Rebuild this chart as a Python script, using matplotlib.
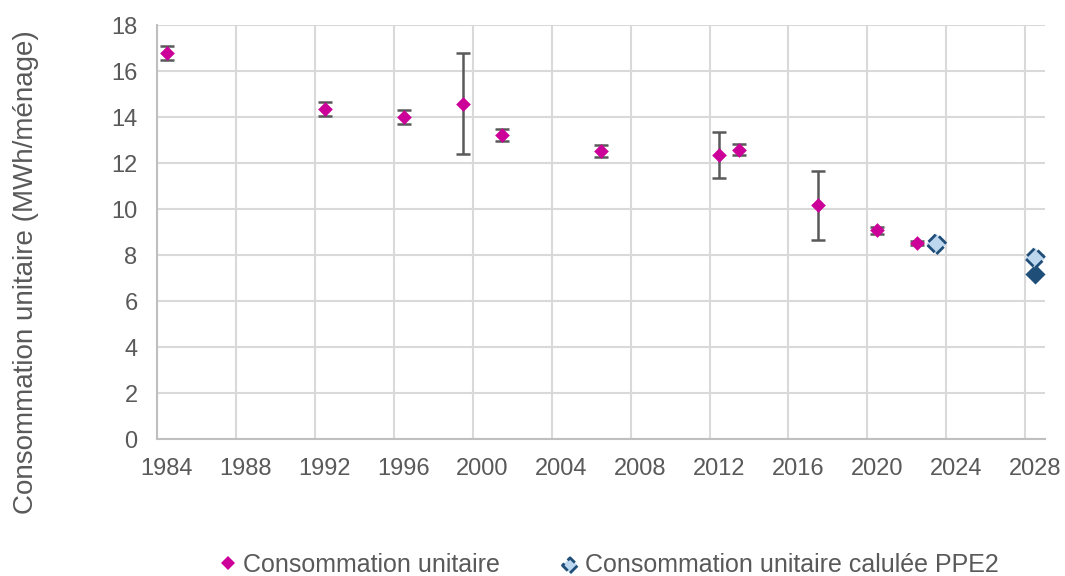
import matplotlib
matplotlib.use("Agg")
import matplotlib.pyplot as plt
from matplotlib.lines import Line2D

plt.rcParams['font.family'] = ['Liberation Sans', 'DejaVu Sans']

# data (years are plotted at mid-year)
years = [1984, 1992, 1996, 1999, 2001, 2006, 2012, 2013, 2017, 2020, 2022]
values = [16.78, 14.35, 14.0, 14.57, 13.22, 12.52, 12.35, 12.57, 10.17, 9.08, 8.52]
errors = [0.32, 0.3, 0.3, 2.2, 0.28, 0.25, 1.0, 0.24, 1.5, 0.15, 0.1]

ppe2_years = [2023, 2028]
ppe2_values = [8.48, 7.87]
dark_years = [2028]
dark_values = [7.17]

xticks = list(range(1984, 2029, 4))
yticks = list(range(0, 19, 2))

magenta = '#CC0099'
dark_blue = '#1F4E79'
light_blue = '#BDD7EE'
text_gray = '#595959'

def mid(ys):
    return [y + 0.5 for y in ys]

fig = plt.figure(figsize=(10.65, 5.76), dpi=100)
L, R, T, B = 157, 1045, 25, 439
ax = fig.add_axes([L/1065, 1 - B/576, (R-L)/1065, (B-T)/576])

ax.errorbar(mid(years), values, yerr=errors, fmt='none', ecolor=text_gray, elinewidth=1.8,
            capsize=5, capthick=1.8, zorder=3)
ax.scatter(mid(years), values, marker='D', s=56, color=magenta, zorder=4, linewidths=0)
ax.scatter(mid(dark_years), dark_values, marker='D', s=105, color=dark_blue, zorder=4, linewidths=0,
           clip_on=False)
ax.scatter(mid(ppe2_years), ppe2_values, marker='D', s=105, facecolor=light_blue, edgecolor=dark_blue,
           linewidths=2, linestyle='--', zorder=5, clip_on=False)

ax.set_xlim(1984, 2029)
ax.set_ylim(0, 18)
ax.set_xticks(xticks)
ax.set_xticklabels([])
ax.set_xticks(mid(xticks), labels=[str(y) for y in xticks], minor=True)
ax.set_yticks(yticks)
ax.grid(True, which='major', color='#D9D9D9', linewidth=1.5)
ax.set_axisbelow(True)
for s in ['top', 'right']:
    ax.spines[s].set_visible(False)
for s in ['left', 'bottom']:
    ax.spines[s].set_color('#BFBFBF')
    ax.spines[s].set_linewidth(1.5)
ax.tick_params(axis='both', which='both', length=0, labelsize=17, colors=text_gray)
ax.tick_params(axis='x', which='both', pad=14)
ax.tick_params(axis='y', which='both', pad=14)

fig.text(26/1065, 1 - 272/576, 'Consommation unitaire (MWh/ménage)', rotation=90,
         ha='center', va='center', fontsize=20, color=text_gray)

handles = [
    Line2D([], [], marker='D', linestyle='none', markersize=7, color=magenta, markeredgewidth=0),
    ax.scatter([], [], marker='D', s=60, facecolor=light_blue, edgecolor=dark_blue, linewidths=2, linestyle='--'),
]
fig.legend(handles, ['Consommation unitaire', 'Consommation unitaire calulée PPE2'],
           loc='center', bbox_to_anchor=(606/1065, 1 - 565/576), ncol=2, frameon=False,
           fontsize=18, labelcolor=text_gray, handletextpad=0.0, columnspacing=2.2,
           handlelength=1.2)

fig.savefig('out.png', dpi=100)
